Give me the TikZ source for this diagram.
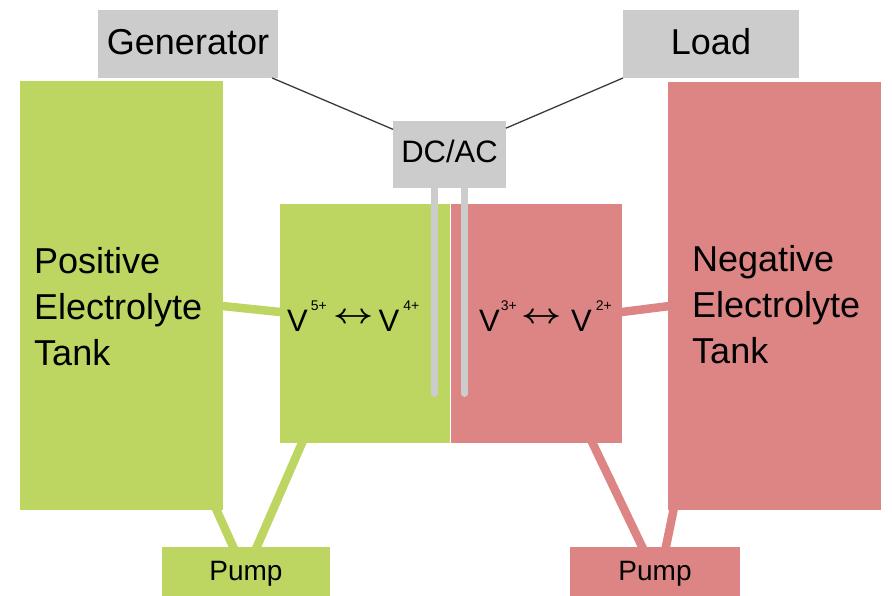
\documentclass[tikz,border=0pt]{standalone}
\usepackage{fontspec}
\setmainfont{Liberation Sans}
\usetikzlibrary{calc,backgrounds}
\definecolor{vgreen}{HTML}{BDD561}
\definecolor{vred}{HTML}{DD8584}
\definecolor{vgray}{HTML}{CCCCCC}
\definecolor{wirec}{HTML}{3A3A3A}
\newcommand{\rarr}{\raisebox{7.3pt}{\scalebox{3.5}[2.8]{\fontsize{10}{10}\selectfont\boldmath$\leftrightarrow$}}}
\begin{document}
\begin{tikzpicture}[x=1pt,y=-1pt,
  blk/.style={fill=#1, draw=none, inner sep=0pt, outer sep=0pt},
  sz/.style args={#1x#2}{minimum width=#1pt, minimum height=#2pt},
  big/.style={font=\fontsize{36}{46}\selectfont},
  wire/.style={draw=wirec, line width=1.3pt},
  pipeG/.style={draw=vgreen, line width=8.5pt, shorten <=-6pt, shorten >=-6pt},
  pipeR/.style={draw=vred, line width=8.5pt, shorten <=-6pt, shorten >=-6pt},
  electrode/.style={draw=vgray, line width=7pt, line cap=round}]
\useasboundingbox (0,0) rectangle (892,596);
% boxes
\node[blk=vgray, sz=180x68, big, text height=26pt, text depth=4pt] (gen) at (188,44) {Generator};
\node[blk=vgray, sz=176x68, big, text height=26pt, text depth=4pt] (load) at (711,44) {Load};
\node[blk=vgray, sz=113x67, font=\fontsize{31}{31}\selectfont, text height=22pt, text depth=5pt] (dcac) at (449.5,154.5) {DC/AC};
\node[blk=vgreen, sz=202.5x429] (lt) at (121.25,295.5) {};
\node[blk=vred, sz=213x427.5] (rt) at (774,296.25) {};
\node[blk=vgreen, sz=170x239] (gc) at (365,323.5) {};
\node[blk=vred, sz=171x239] (rc) at (536.5,323.5) {};
\node[blk=vgreen, sz=168x49.5, font=\fontsize{28}{28}\selectfont, text height=20pt, text depth=2.5pt] (lp) at (246,571.25) {Pump};
\node[blk=vred, sz=170x49.5, font=\fontsize{28}{28}\selectfont, text height=20pt, text depth=2.5pt] (rp) at (655,571.25) {Pump};
% tank labels (base = last line)
\node[big, anchor=base west, align=left, inner sep=0pt] (ltl) at (34,365) {Positive\\Electrolyte\\Tank};
\node[big, anchor=base west, align=left, inner sep=0pt] (rtl) at (692,363.5) {Negative\\Electrolyte\\Tank};
% reactions
\node[anchor=base west, inner sep=0pt, font=\fontsize{31}{31}\selectfont] (gr) at (287,331)
  {V\hspace{3pt}\raisebox{21pt}{\fontsize{14}{14}\selectfont 5+}\hspace{7pt}\rarr\hspace{4.5pt}V\hspace{4pt}\raisebox{21pt}{\fontsize{14}{14}\selectfont 4+}};
\node[anchor=base west, inner sep=0pt, font=\fontsize{31}{31}\selectfont] (rr) at (479,331)
  {V\hspace{1pt}\raisebox{21pt}{\fontsize{14}{14}\selectfont 3+}\hspace{5pt}\rarr\hspace{9pt}V\hspace{4pt}\raisebox{21pt}{\fontsize{14}{14}\selectfont 2+}};
% wires
\draw[wire] (gen.-22) -- (dcac.156);
\draw[wire] (load.south west) -- (dcac.25);
% electrodes
\coordinate (e1end) at (434.5,393.5);
\coordinate (e2end) at (464.5,393.5);
\draw[electrode] ([xshift=-15pt]dcac.south) -- (e1end);
\draw[electrode] ([xshift=15pt]dcac.south) -- (e2end);
% pipes
\begin{scope}[on background layer]
\draw[pipeG] ([yshift=-10.5pt]lt.east) -- ([yshift=11.5pt]gc.west);
\draw[pipeG] ([xshift=-6pt]lt.south east) -- ([xshift=-13pt]lp.north);
\draw[pipeG] ([xshift=22pt]gc.south west) -- ([xshift=11pt]lp.north);
\draw[pipeR] ([yshift=11.5pt]rc.east) -- ([yshift=-10pt]rt.west);
\draw[pipeR] ([xshift=-29.5pt]rc.south east) -- ([xshift=-13pt]rp.north);
\draw[pipeR] ([xshift=6pt]rt.south west) -- ([xshift=11pt]rp.north);
\end{scope}
\end{tikzpicture}
\end{document}
